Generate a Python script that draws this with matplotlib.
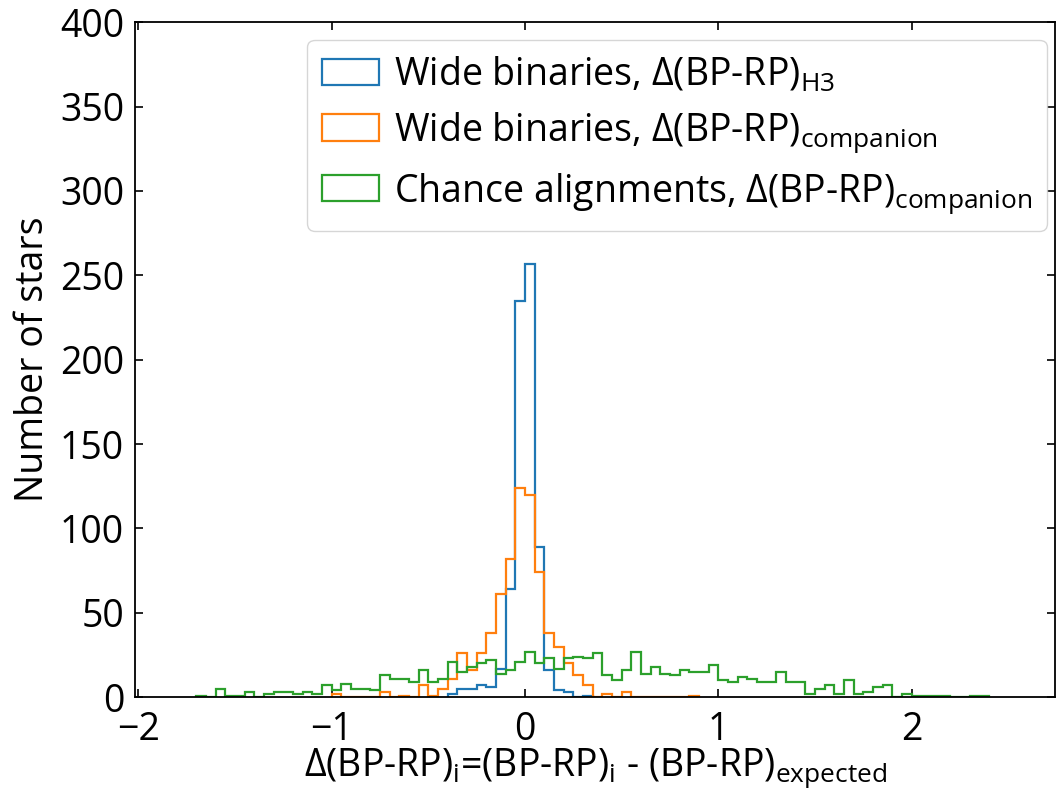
import numpy as np
import matplotlib
matplotlib.use('Agg')
import matplotlib.pyplot as plt

plt.rcParams['font.family'] = ['Open Sans', 'DejaVu Sans']
plt.rcParams['mathtext.default'] = 'regular'

# HISTOGRAM COUNTS (bin width 0.05) ============================================
bin_width = 0.05

h3_start = -0.40
h3_counts = [2, 5, 5, 7, 6, 17, 64, 235, 257, 89, 16, 4, 3, 0, 1]

comp_start = -1.00
comp_counts = [2, 0, 0, 0, 0, 3, 0, 1, 0, 7,
               1, 5, 11, 26, 16, 26, 38, 61, 82, 124,
               120, 74, 38, 30, 20, 13, 7, 0, 2, 0,
               3, 0, 0, 0, 0, 0, 0, 1]

chance_start = -1.70
chance_counts = [1, 0, 5, 1, 1, 3, 0, 2, 3, 3,
                 2, 3, 2, 7, 4, 8, 5, 5, 4, 13,
                 11, 11, 9, 16, 9, 11, 21, 15, 18, 20,
                 22, 14, 16, 21, 27, 20, 23, 17, 23, 24,
                 23, 26, 13, 10, 16, 27, 14, 18, 14, 13,
                 16, 15, 15, 19, 10, 9, 12, 11, 9, 9,
                 15, 9, 9, 2, 5, 7, 2, 10, 2, 3,
                 6, 7, 0, 2, 1, 1, 1, 1, 0, 0,
                 1, 1]

labels = [r'Wide binaries, Δ(BP-RP)$_{H3}$',
          r'Wide binaries, Δ(BP-RP)$_{companion}$',
          r'Chance alignments, Δ(BP-RP)$_{companion}$']
colors = ['#1f77b4', '#ff7f0e', '#2ca02c']


def get_edges(start, counts):
    return np.round(start + bin_width * np.arange(len(counts) + 1), 3)


# PLOT =========================================================================
fig = plt.figure(figsize=(10.57, 7.95), dpi=100)
ax = fig.add_axes([0.128, 0.123, 0.87, 0.849])

for start, counts, label, color in zip(
        [h3_start, comp_start, chance_start],
        [h3_counts, comp_counts, chance_counts],
        labels, colors):
    edges = get_edges(start, counts)
    ax.hist(edges[:-1] + bin_width / 2, bins=edges, weights=counts,
            histtype='step', color=color, linewidth=1.6, label=label)

ax.set_xlim(-2.015, 2.74)
ax.set_ylim(0, 400)
ax.set_xticks([-2, -1, 0, 1, 2])
ax.set_yticks(np.arange(0, 401, 50))
ax.tick_params(direction='in', top=True, right=True, length=6, width=1.2,
               labelsize=27)
ax.tick_params(axis='x', pad=10)
ax.tick_params(axis='y', pad=8)
for s in ax.spines.values():
    s.set_linewidth(1.3)

ax.set_xlabel(r'Δ(BP-RP)$_{i}$=(BP-RP)$_{i}$ - (BP-RP)$_{expected}$',
              fontsize=27, labelpad=-2)
ax.set_ylabel('Number of stars', fontsize=27, labelpad=6)
ax.legend(loc='upper right', bbox_to_anchor=(0.9914, 0.9738),
          borderaxespad=0, fontsize=27, handlelength=1.5,
          handletextpad=0.4, borderpad=0.4, labelspacing=0.42,
          framealpha=0.8)

fig.savefig('out.png', dpi=100)
